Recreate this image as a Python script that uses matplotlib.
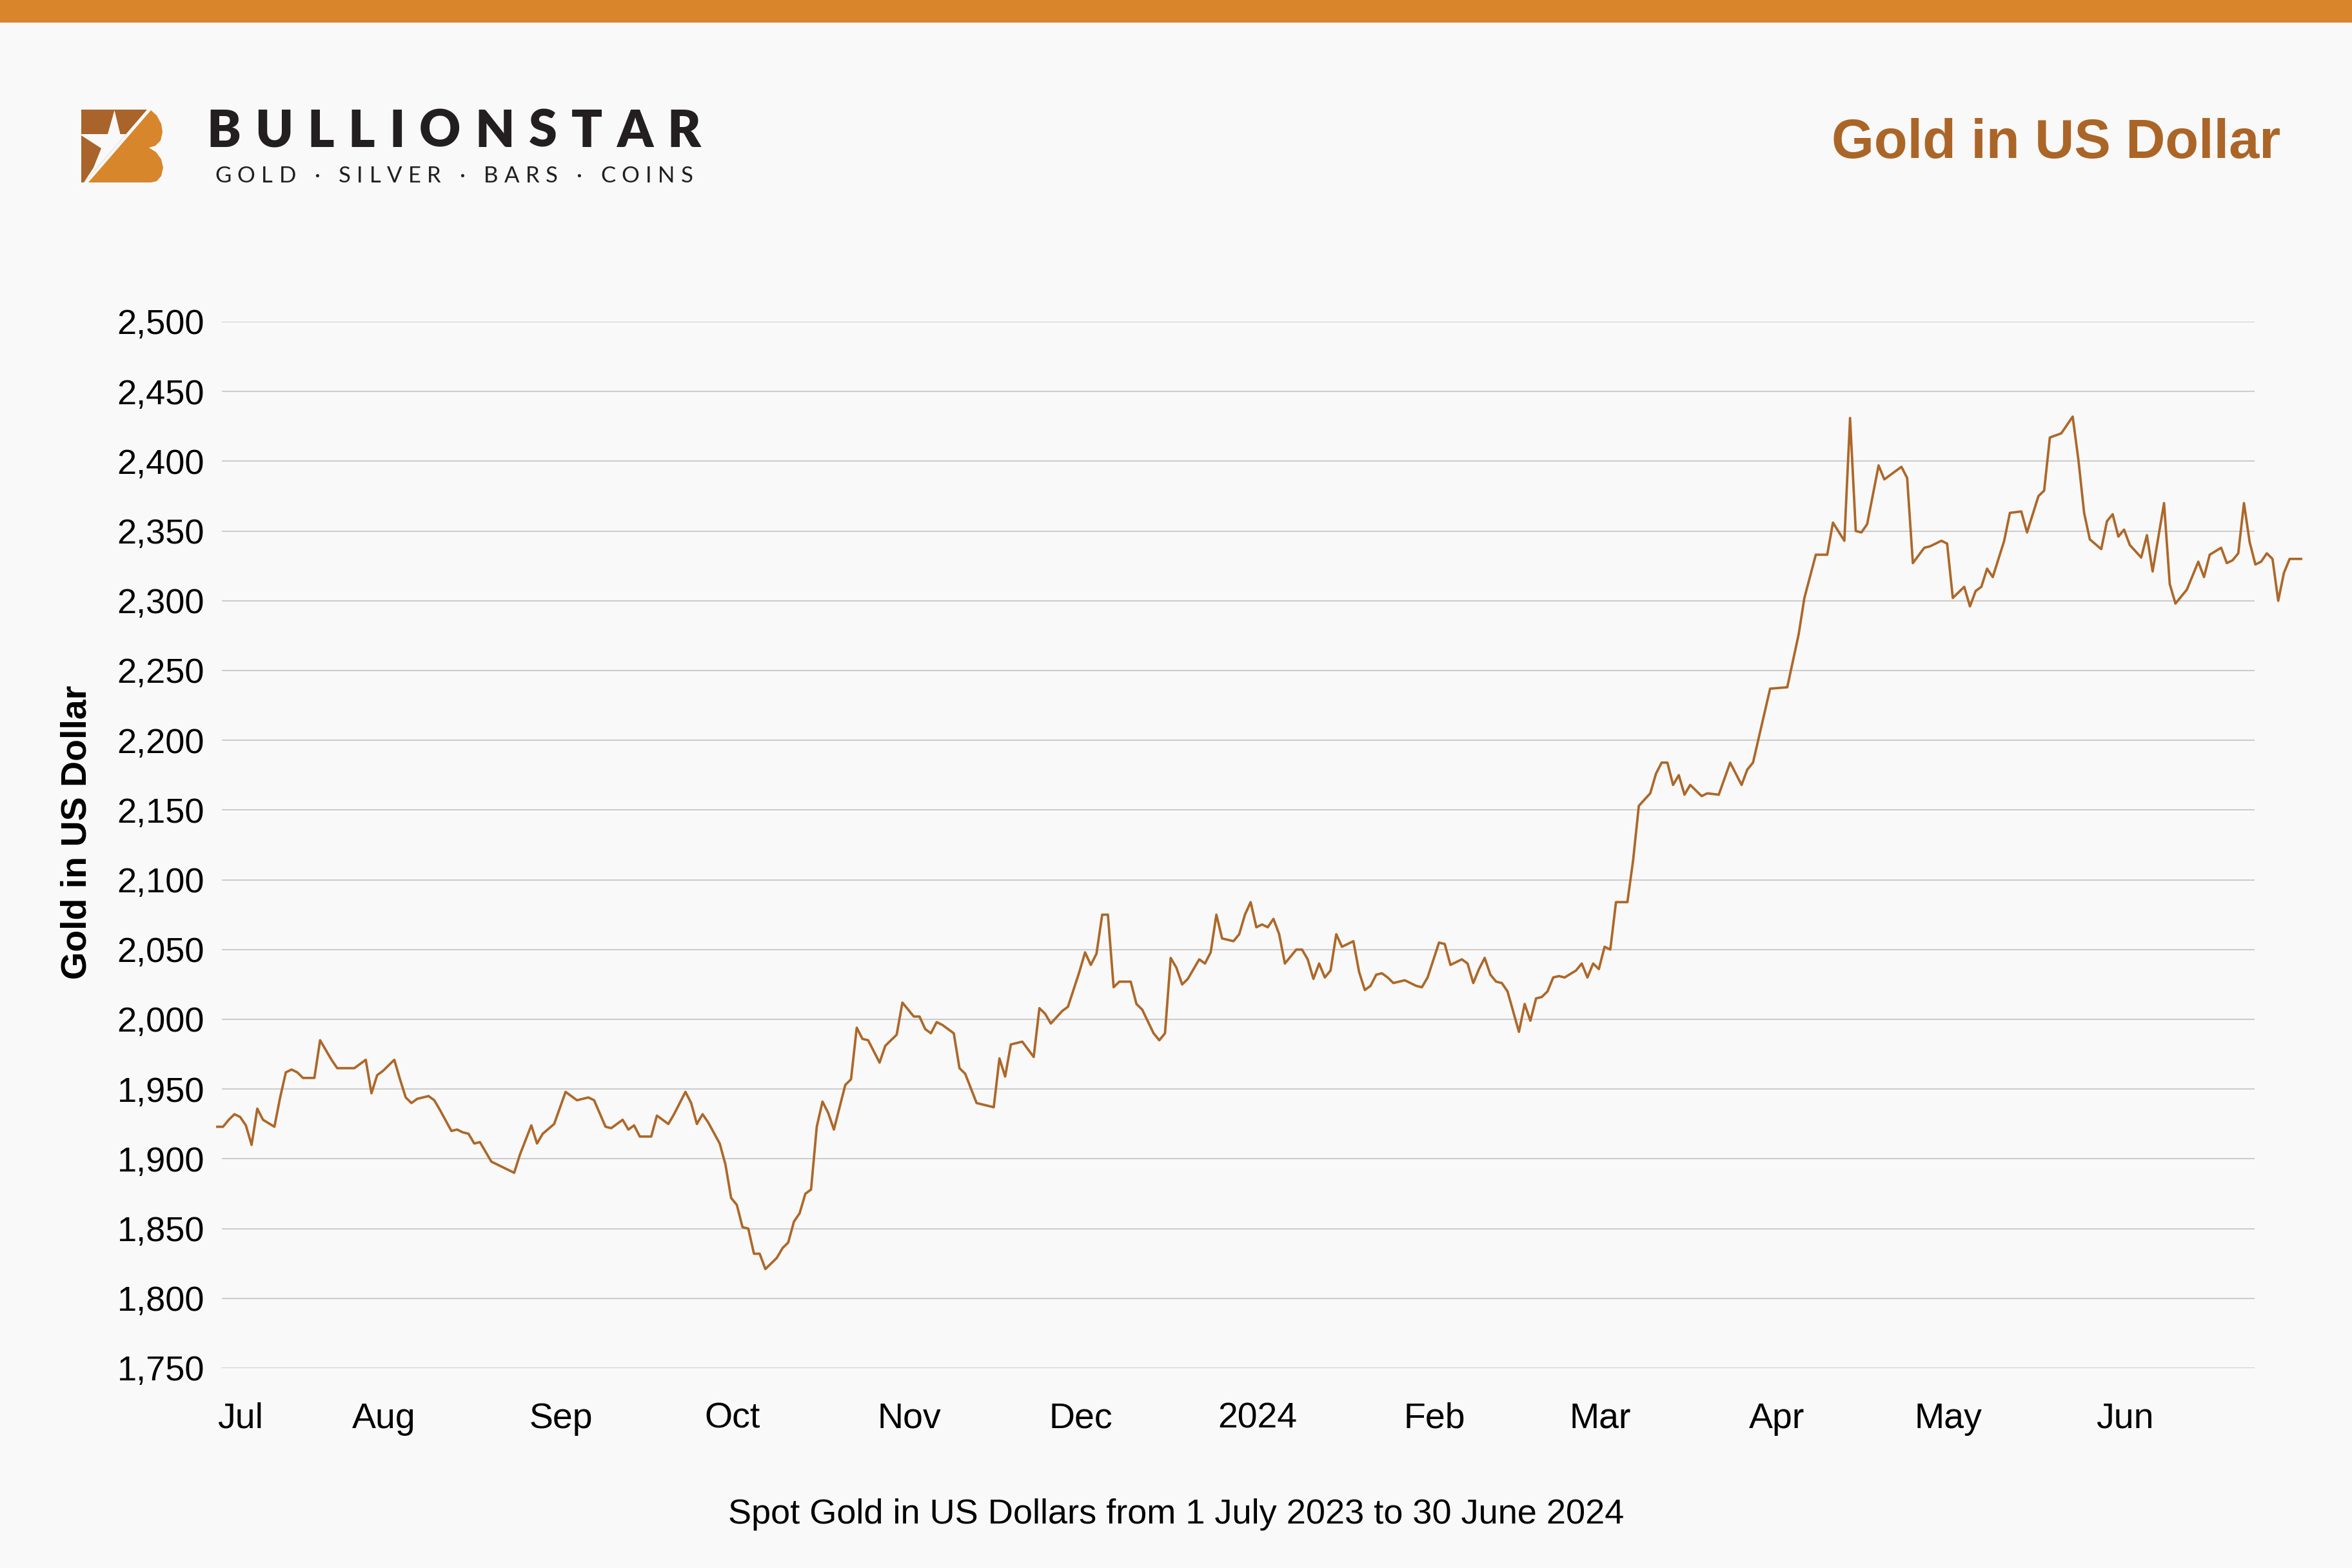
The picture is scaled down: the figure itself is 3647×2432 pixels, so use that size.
import matplotlib
matplotlib.use("Agg")
import matplotlib.pyplot as plt
import matplotlib.transforms as mtransforms
import pandas as pd
from matplotlib.patches import Polygon, Rectangle
from matplotlib.font_manager import FontProperties

W, H, DPI = 3647, 2432, 100

# spot gold, daily points
dates = [
    "2023-07-01", "2023-07-02", "2023-07-03", "2023-07-04", "2023-07-05", "2023-07-06", "2023-07-07", "2023-07-08",
    "2023-07-09", "2023-07-11", "2023-07-12", "2023-07-13", "2023-07-14", "2023-07-15", "2023-07-16", "2023-07-18",
    "2023-07-19", "2023-07-21", "2023-07-22", "2023-07-25", "2023-07-27", "2023-07-28", "2023-07-29", "2023-07-30",
    "2023-07-31",
    "2023-08-01", "2023-08-02", "2023-08-03", "2023-08-04", "2023-08-05", "2023-08-07", "2023-08-08", "2023-08-09",
    "2023-08-11", "2023-08-12", "2023-08-13", "2023-08-14", "2023-08-15", "2023-08-16", "2023-08-18", "2023-08-22",
    "2023-08-23", "2023-08-25", "2023-08-26", "2023-08-27", "2023-08-29", "2023-08-31",
    "2023-09-02", "2023-09-04", "2023-09-05", "2023-09-07", "2023-09-08", "2023-09-10", "2023-09-11", "2023-09-12",
    "2023-09-13", "2023-09-15", "2023-09-16", "2023-09-18", "2023-09-19", "2023-09-21", "2023-09-22", "2023-09-23",
    "2023-09-24", "2023-09-25", "2023-09-27", "2023-09-28", "2023-09-29", "2023-09-30",
    "2023-10-01", "2023-10-02", "2023-10-03", "2023-10-04", "2023-10-05", "2023-10-07", "2023-10-08", "2023-10-09",
    "2023-10-10", "2023-10-11", "2023-10-12", "2023-10-13", "2023-10-14", "2023-10-15", "2023-10-16", "2023-10-17",
    "2023-10-19", "2023-10-20", "2023-10-21", "2023-10-22", "2023-10-23", "2023-10-25", "2023-10-26", "2023-10-28",
    "2023-10-29", "2023-10-31",
    "2023-11-01", "2023-11-02", "2023-11-03", "2023-11-04", "2023-11-05", "2023-11-07", "2023-11-08", "2023-11-09",
    "2023-11-11", "2023-11-14", "2023-11-15", "2023-11-16", "2023-11-17", "2023-11-19", "2023-11-21", "2023-11-22",
    "2023-11-23", "2023-11-24", "2023-11-26", "2023-11-27", "2023-11-29", "2023-11-30",
    "2023-12-01", "2023-12-02", "2023-12-03", "2023-12-04", "2023-12-05", "2023-12-06", "2023-12-08", "2023-12-09",
    "2023-12-10", "2023-12-12", "2023-12-13", "2023-12-14", "2023-12-15", "2023-12-16", "2023-12-17", "2023-12-18",
    "2023-12-20", "2023-12-21", "2023-12-22", "2023-12-23", "2023-12-24", "2023-12-26", "2023-12-27", "2023-12-28",
    "2023-12-29", "2023-12-30", "2023-12-31",
    "2024-01-01", "2024-01-02", "2024-01-03", "2024-01-04", "2024-01-06", "2024-01-07", "2024-01-08", "2024-01-09",
    "2024-01-10", "2024-01-11", "2024-01-12", "2024-01-13", "2024-01-14", "2024-01-15", "2024-01-16", "2024-01-17",
    "2024-01-18", "2024-01-19", "2024-01-20", "2024-01-21", "2024-01-22", "2024-01-23", "2024-01-25", "2024-01-26",
    "2024-01-27", "2024-01-28", "2024-01-29", "2024-01-31",
    "2024-02-01", "2024-02-02", "2024-02-04", "2024-02-05", "2024-02-06", "2024-02-07", "2024-02-08", "2024-02-09",
    "2024-02-10", "2024-02-11", "2024-02-12", "2024-02-14", "2024-02-15", "2024-02-16", "2024-02-17", "2024-02-18",
    "2024-02-19", "2024-02-20", "2024-02-21", "2024-02-22", "2024-02-24", "2024-02-25", "2024-02-26", "2024-02-27",
    "2024-02-28", "2024-02-29",
    "2024-03-01", "2024-03-02", "2024-03-04", "2024-03-05", "2024-03-06", "2024-03-08", "2024-03-09", "2024-03-10",
    "2024-03-11", "2024-03-12", "2024-03-13", "2024-03-14", "2024-03-15", "2024-03-17", "2024-03-18", "2024-03-20",
    "2024-03-22", "2024-03-24", "2024-03-25", "2024-03-26", "2024-03-29",
    "2024-04-01", "2024-04-03", "2024-04-04", "2024-04-06", "2024-04-08", "2024-04-09", "2024-04-11", "2024-04-12",
    "2024-04-13", "2024-04-14", "2024-04-15", "2024-04-17", "2024-04-18", "2024-04-21", "2024-04-22", "2024-04-23",
    "2024-04-25", "2024-04-26", "2024-04-28", "2024-04-29", "2024-04-30",
    "2024-05-02", "2024-05-03", "2024-05-04", "2024-05-05", "2024-05-06", "2024-05-07", "2024-05-09", "2024-05-10",
    "2024-05-12", "2024-05-13", "2024-05-15", "2024-05-16", "2024-05-17", "2024-05-19", "2024-05-21", "2024-05-22",
    "2024-05-23", "2024-05-24", "2024-05-26", "2024-05-27", "2024-05-28", "2024-05-29", "2024-05-30", "2024-05-31",
    "2024-06-02", "2024-06-03", "2024-06-04", "2024-06-06", "2024-06-07", "2024-06-08", "2024-06-10", "2024-06-12",
    "2024-06-13", "2024-06-14", "2024-06-16", "2024-06-17", "2024-06-18", "2024-06-19", "2024-06-20", "2024-06-21",
    "2024-06-22", "2024-06-23", "2024-06-24", "2024-06-25", "2024-06-26", "2024-06-27", "2024-06-28", "2024-06-30",
]
prices = [
    1923, 1923, 1928, 1932, 1930, 1924, 1910, 1936, 1928, 1923, 1944, 1962, 1964, 1962, 1958, 1958,
    1985, 1971, 1965, 1965, 1971, 1947, 1960, 1963, 1967,
    1971, 1957, 1944, 1940, 1943, 1945, 1942, 1935, 1920, 1921, 1919, 1918, 1911, 1912, 1898, 1890,
    1903, 1924, 1911, 1918, 1925, 1948,
    1942, 1944, 1942, 1923, 1922, 1928, 1921, 1924, 1916, 1916, 1931, 1925, 1932, 1948, 1940, 1925,
    1932, 1926, 1911, 1896, 1872, 1867,
    1851, 1850, 1832, 1832, 1821, 1829, 1836, 1840, 1855, 1861, 1875, 1878, 1923, 1941, 1933, 1921,
    1953, 1957, 1994, 1986, 1985, 1969, 1981, 1989, 2012, 2002,
    2002, 1993, 1990, 1998, 1996, 1990, 1965, 1961, 1940, 1937, 1972, 1959, 1982, 1984, 1973, 2008,
    2004, 1997, 2006, 2009, 2034, 2048,
    2039, 2047, 2075, 2075, 2023, 2027, 2027, 2011, 2007, 1990, 1985, 1990, 2044, 2037, 2025, 2029,
    2043, 2040, 2048, 2075, 2058, 2056, 2061, 2075, 2084, 2066, 2068,
    2066, 2072, 2061, 2040, 2050, 2050, 2043, 2029, 2040, 2030, 2035, 2061, 2052, 2054, 2056, 2034,
    2021, 2024, 2032, 2033, 2030, 2026, 2028, 2026, 2024, 2023, 2030, 2055,
    2054, 2039, 2043, 2040, 2026, 2036, 2044, 2032, 2027, 2026, 2020, 1991, 2011, 1999, 2015, 2016,
    2020, 2030, 2031, 2030, 2035, 2040, 2030, 2040, 2036, 2052,
    2050, 2084, 2084, 2114, 2153, 2162, 2176, 2184, 2184, 2168, 2175, 2161, 2168, 2160, 2162, 2161,
    2184, 2168, 2179, 2184, 2237,
    2238, 2276, 2302, 2333, 2333, 2356, 2343, 2431, 2350, 2349, 2355, 2397, 2387, 2396, 2388, 2327,
    2338, 2339, 2343, 2341, 2302,
    2310, 2296, 2307, 2310, 2323, 2317, 2343, 2363, 2364, 2349, 2375, 2379, 2417, 2420, 2432, 2401,
    2363, 2344, 2337, 2357, 2362, 2346, 2351, 2340,
    2331, 2347, 2321, 2370, 2312, 2298, 2308, 2328, 2317, 2333, 2338, 2327, 2329, 2334, 2370, 2342,
    2326, 2328, 2334, 2330, 2300, 2320, 2330, 2330,
]

month_ticks = ["2023-07-01", "2023-08-01", "2023-09-01", "2023-10-01", "2023-11-01", "2023-12-01",
               "2024-01-01", "2024-02-01", "2024-03-01", "2024-04-01", "2024-05-01", "2024-06-01"]
month_labels = ["Jul", "Aug", "Sep", "Oct", "Nov", "Dec", "2024", "Feb", "Mar", "Apr", "May", "Jun"]
y_ticks = list(range(1750, 2501, 50))

BG = "#F9F9F9"
BAR = "#D8852B"
BROWN = "#AB6526"
LINE = "#AD6728"
INK = "#231F20"

plt.rcParams["font.family"] = ["Liberation Sans", "DejaVu Sans"]

fig = plt.figure(figsize=(W / DPI, H / DPI), dpi=DPI, facecolor=BG)

# decoration layer in pixel coordinates (top bar + logo)
deco = fig.add_axes([0, 0, 1, 1], zorder=0)
deco.set_xlim(0, W)
deco.set_ylim(H, 0)
deco.axis("off")
deco.add_patch(Rectangle((0, 0), W, 35, color=BAR, lw=0))

dark_part = [(126, 170), (228, 170), (131, 283), (126, 283)]
orange_part = [(234, 171), (243, 179), (250, 192), (252, 205), (249, 218), (241, 226), (231, 229),
               (242, 236), (250, 247), (253, 260), (250, 273), (243, 281), (234, 283), (137, 283)]
star_part = [(177.5, 171), (186.5, 208), (195.4, 208), (131, 283), (130, 283), (145, 260),
             (157, 230), (126, 210), (126, 208), (167, 208)]
deco.add_patch(Polygon(dark_part, closed=True, color="#A8642A", lw=0))
deco.add_patch(Polygon(orange_part, closed=True, color="#D8862C", lw=0))
deco.add_patch(Polygon(star_part, closed=True, color=BG, lw=0))

renderer = fig.canvas.get_renderer()


def tracked_text(s, x0, x1, y, size, weight):
    # spread the letters evenly between x0 and x1 (pixel coords)
    prop = FontProperties(family=["Lato", "DejaVu Sans"], size=size, weight=weight)
    widths = []
    for c in s:
        if c == " ":
            widths.append(size * DPI / 72 * 0.28)
        else:
            widths.append(renderer.get_text_width_height_descent(c, prop, ismath=False)[0])
    gap = ((x1 - x0) - sum(widths)) / (len(s) - 1)
    x = x0
    for c, w in zip(s, widths):
        if c != " ":
            deco.text(x, y, c, fontproperties=prop, color=INK, ha="left", va="baseline")
        x += w + gap


tracked_text("BULLIONSTAR", 320, 1086, 228, 57, "heavy")
tracked_text("GOLD · SILVER · BARS · COINS", 333, 1075, 283, 25, "normal")

# chart area
ax = fig.add_axes([337 / W, 1 - 2122 / H, 3231 / W, 1623 / H], zorder=1)
ax.patch.set_alpha(0)
x = pd.to_datetime(dates)
ax.plot(x, prices, color=LINE, lw=2.7, solid_joinstyle="round", clip_on=False, zorder=3)
ax.set_xlim(pd.Timestamp("2023-07-01"), pd.Timestamp("2024-06-30"))
ax.set_ylim(1750, 2500)

for v in y_ticks:
    ax.axhline(v, xmin=0.0025, xmax=0.9774, color="#CDCDCD", lw=1.5, zorder=1)

ax.set_yticks(y_ticks)
ax.set_yticklabels([f"{v:,}" for v in y_ticks])
ax.set_xticks(pd.to_datetime(month_ticks))
ax.set_xticklabels(month_labels)
ax.tick_params(axis="y", length=0, pad=14.4, labelsize=39, colors="black")
ax.tick_params(axis="x", length=0, pad=38, labelsize=40, colors="black")
for s in ax.spines.values():
    s.set_visible(False)

# first month label sits inside the plot, the others are nudged a little left
shift = mtransforms.ScaledTranslation(-16 / DPI, 0, fig.dpi_scale_trans)
for i, lab in enumerate(ax.get_xticklabels()):
    if i == 0:
        lab.set_horizontalalignment("left")
    else:
        lab.set_transform(lab.get_transform() + shift)

fig.text(3536 / W, 1 - 245 / H, "Gold in US Dollar", ha="right", va="baseline",
         fontsize=61, fontweight="bold", color=BROWN)
fig.text(133 / W, 1 - 1291 / H, "Gold in US Dollar", rotation=90, rotation_mode="anchor",
         ha="center", va="baseline", fontsize=40, fontweight="bold", color="black")
fig.text(0.5, 1 - 2363 / H, "Spot Gold in US Dollars from 1 July 2023 to 30 June 2024",
         ha="center", va="baseline", fontsize=39, color="black")

fig.savefig("out.png", dpi=DPI, facecolor=BG)
